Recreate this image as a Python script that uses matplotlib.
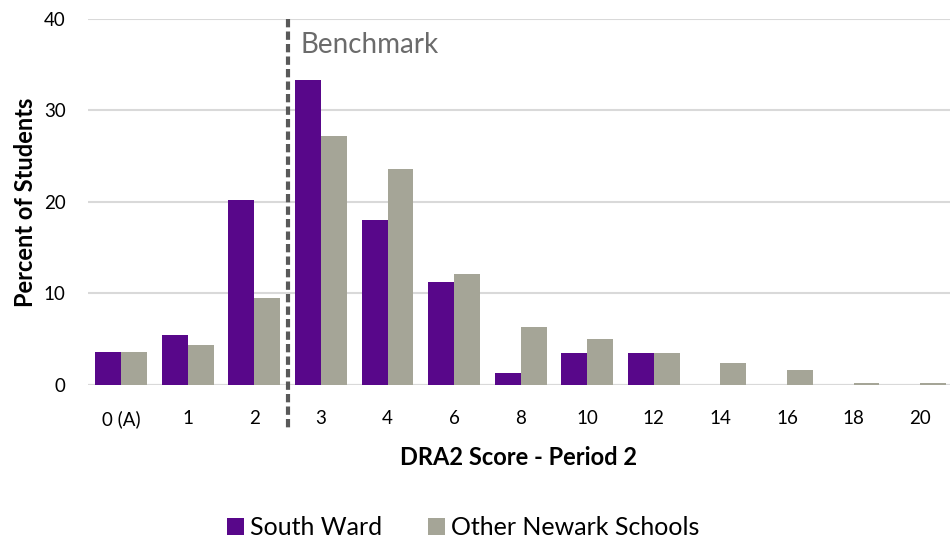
import matplotlib.pyplot as plt
import numpy as np
from matplotlib.patches import Patch

plt.rcParams['font.family'] = ['Lato', 'DejaVu Sans']

# DRA2 score distribution, period 2 (percent of students)
scores = ['0 (A)', '1', '2', '3', '4', '6', '8', '10', '12', '14', '16', '18', '20']
south_ward = [3.6, 5.5, 20.2, 33.3, 18.0, 11.2, 1.3, 3.5, 3.5, 0, 0, 0, 0]
other_newark = [3.6, 4.4, 9.5, 27.2, 23.6, 12.1, 6.3, 5.0, 3.5, 2.4, 1.6, 0.2, 0.2]
benchmark_pos = 2.5  # between scores 2 and 3

purple = '#58078A'
grey = '#A5A597'
grid_col = '#D9D9D9'

fig = plt.figure(figsize=(9.51, 5.42), dpi=100)
ax = fig.add_axes([0.0925, 0.2897, 0.9065, 0.6753])

x = np.arange(len(scores))
w = 0.39
ax.bar(x - w / 2, south_ward, w, color=purple, zorder=3)
ax.bar(x + w / 2, other_newark, w, color=grey, zorder=3)

ax.set_xlim(-0.5, 12.45)
ax.set_ylim(0, 40)
ax.set_yticks([0, 10, 20, 30, 40])
ax.grid(axis='y', color=grid_col, linewidth=1.5, zorder=0)
ax.set_axisbelow(True)
for s in ax.spines.values():
    s.set_visible(False)
ax.axhline(0, color=grid_col, linewidth=1.5, zorder=2)

ax.set_xticks(x)
ax.set_xticklabels(scores)
ax.tick_params(axis='both', length=0, labelsize=13.5, colors='black')
ax.tick_params(axis='y', pad=16)
ax.tick_params(axis='x', pad=18)

ax.set_xlabel('DRA2 Score - Period 2', fontsize=17, fontweight='bold', labelpad=13)
ax.set_ylabel('Percent of Students', fontsize=17, fontweight='bold', labelpad=5)

# benchmark line runs from the top gridline down past the tick labels
ax.plot([benchmark_pos, benchmark_pos], [40, -4.9], color='#595959', linewidth=3,
        linestyle=(0, (2, 1)), clip_on=False, zorder=4)
ax.text(benchmark_pos + 0.2, 37.2, 'Benchmark', fontsize=20, color='#6B6B6B',
        ha='left', va='center')

handles = [Patch(facecolor=purple, label='South Ward'),
           Patch(facecolor=grey, label='Other Newark Schools')]
fig.legend(handles=handles, loc='center', bbox_to_anchor=(0.487, 0.026), ncol=2,
           frameon=False, fontsize=18, handlelength=0.7, handleheight=0.7,
           handletextpad=0.25, columnspacing=1.8, borderpad=0)

fig.savefig('out.png', dpi=100)
